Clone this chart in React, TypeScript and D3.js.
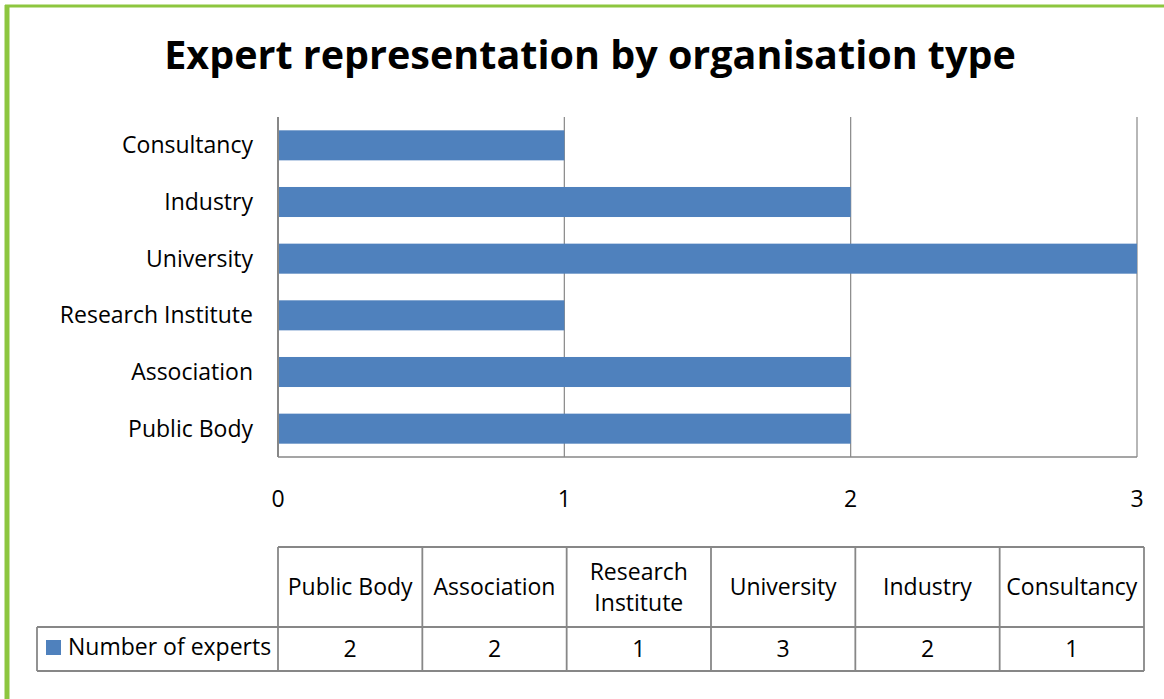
import React from "react";
import * as d3 from "d3";

const categories = ["Public Body", "Association", "Research Institute", "University", "Industry", "Consultancy"];
const values = [2, 2, 1, 3, 2, 1];
const xTicks = [0, 1, 2, 3];
const seriesName = "Number of experts";
const title = "Expert representation by organisation type";

const W = 1164;
const H = 699;
const FONT = "'Open Sans', Lato, sans-serif";

export default function App() {
  const plotLeft = 278, plotRight = 1137, plotTop = 117, plotBottom = 457;
  const x = d3.scaleLinear().domain([0, 3]).range([plotLeft, plotRight]);
  const y = d3.scaleBand<string>().domain([...categories].reverse()).range([plotTop, plotBottom]).paddingInner(0.47).paddingOuter(0.235);

  const tableLeft = 278, tableRight = 1144, tableTop = 547, tableMid = 627, tableBottom = 671, legendLeft = 37;
  const col = d3.scaleBand<string>().domain(categories).range([tableLeft, tableRight]);
  const gray = "#878787";
  const fs = 23;

  return (
    <svg width={W} height={H} style={{ position: "absolute", left: 0, top: 0, background: "#fff" }} fontFamily={FONT}>
      <rect x={0} y={0} width={W} height={H} fill="#fff" />
      <line x1={5} x2={W} y1={6} y2={6} stroke="#8DC63F" strokeWidth={3} />
      <line x1={7} x2={7} y1={5} y2={H} stroke="#8DC63F" strokeWidth={5} />

      <text x={590} y={69} textAnchor="middle" fontSize={39.5} fontWeight="bold" fill="#000">{title}</text>

      {xTicks.map(t => (
        <line key={"g" + t} x1={x(t)} x2={x(t)} y1={plotTop} y2={plotBottom} stroke={gray} strokeWidth={1.2} />
      ))}
      <line x1={plotLeft} x2={plotRight} y1={plotBottom} y2={plotBottom} stroke={gray} strokeWidth={1.5} />
      <line x1={plotLeft} x2={plotLeft} y1={plotTop} y2={plotBottom} stroke={gray} strokeWidth={2} />

      {categories.map((c, i) => (
        <rect key={c} x={x(0) + 1} y={y(c)!} width={x(values[i]) - x(0) - 1} height={y.bandwidth()} fill="#4F81BD" />
      ))}

      {categories.map(c => (
        <text key={"l" + c} x={253} y={y(c)! + y.bandwidth() / 2 + 8} textAnchor="end" fontSize={fs} fill="#000">{c}</text>
      ))}

      {xTicks.map(t => (
        <text key={"t" + t} x={x(t)} y={507} textAnchor="middle" fontSize={fs} fill="#000">{t}</text>
      ))}

      <g stroke={gray} strokeWidth={1.8} fill="none">
        <line x1={tableLeft} x2={tableRight} y1={tableTop} y2={tableTop} />
        <line x1={legendLeft} x2={tableRight} y1={tableMid} y2={tableMid} />
        <line x1={legendLeft} x2={tableRight} y1={tableBottom} y2={tableBottom} />
        <line x1={legendLeft} x2={legendLeft} y1={tableMid} y2={tableBottom} />
        {categories.map(c => (
          <line key={"v" + c} x1={col(c)!} x2={col(c)!} y1={tableTop} y2={tableBottom} />
        ))}
        <line x1={tableRight} x2={tableRight} y1={tableTop} y2={tableBottom} />
      </g>
      {categories.map((c, i) => {
        const cx = col(c)! + col.bandwidth() / 2;
        const words = c === "Research Institute" ? ["Research", "Institute"] : [c];
        return (
          <g key={"h" + c}>
            {words.length === 1 ? (
              <text x={cx} y={595} textAnchor="middle" fontSize={fs} fill="#000">{c}</text>
            ) : (
              words.map((w, k) => (
                <text key={w} x={cx} y={580 + k * 31} textAnchor="middle" fontSize={fs} fill="#000">{w}</text>
              ))
            )}
            <text x={cx} y={657} textAnchor="middle" fontSize={fs} fill="#000">{values[i]}</text>
          </g>
        );
      })}
      <rect x={46} y={640} width={15} height={15} fill="#4F81BD" />
      <text x={68} y={655} fontSize={fs} fill="#000">{seriesName}</text>
    </svg>
  );
}
